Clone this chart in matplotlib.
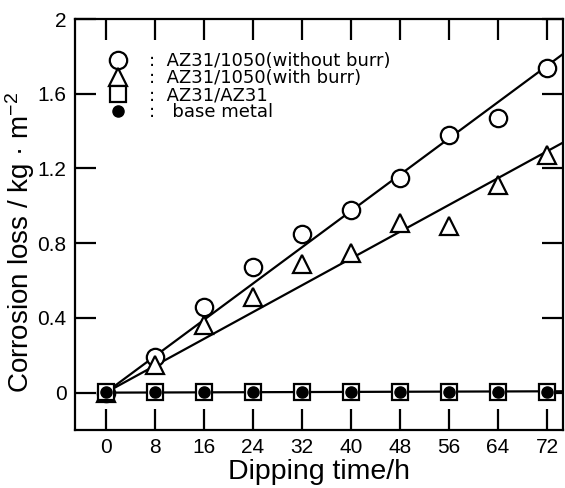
import numpy as np
import matplotlib
matplotlib.use('Agg')
import matplotlib.pyplot as plt

plt.rcParams['font.family'] = ['Liberation Sans', 'DejaVu Sans']
plt.rcParams['mathtext.fontset'] = 'custom'
plt.rcParams['mathtext.rm'] = 'Liberation Sans'
plt.rcParams['mathtext.it'] = 'Liberation Sans:italic'

# 浸漬時間と腐食減量
hours = [0, 8, 16, 24, 32, 40, 48, 56, 64, 72]
without_burr = [0.0, 0.19, 0.46, 0.67, 0.85, 0.98, 1.15, 1.38, 1.47, 1.74]
with_burr = [0.0, 0.15, 0.36, 0.51, 0.69, 0.75, 0.91, 0.89, 1.11, 1.27]
az31_az31 = [0.005, 0.005, 0.005, 0.005, 0.005, 0.005, 0.005, 0.005, 0.005, 0.005]
base_metal = [0.005, 0.005, 0.005, 0.005, 0.005, 0.005, 0.005, 0.005, 0.005, 0.005]

labels = [':  AZ31/1050(without burr)', ':  AZ31/1050(with burr)',
          ':  AZ31/AZ31', ':   base metal']

x_min, x_max = -5, 74.6
x = np.array(hours, dtype=float)


def slope_through_origin(y):
    """原点を通る直線の傾き"""
    y = np.array(y, dtype=float)
    return np.sum(x * y) / np.sum(x ** 2)


fig = plt.figure(figsize=(5.65, 4.88), dpi=100)
ax = fig.add_axes([75 / 565, 1 - 430 / 488, 488 / 565, 411 / 488])

# 近似直線
x_fit = np.array([0, x_max])
for series in (without_burr, with_burr, az31_az31):
    ax.plot(x_fit, slope_through_origin(series) * x_fit, color='black', lw=1.6, zorder=2)

mk = dict(linestyle='none', markerfacecolor='white', markeredgecolor='black',
          markeredgewidth=1.6, zorder=3)
h1, = ax.plot(hours, without_burr, marker='o', markersize=12.5, label=labels[0], **mk)
h2, = ax.plot(hours, with_burr, marker='^', markersize=13, label=labels[1], **mk)
h3, = ax.plot(hours, az31_az31, marker='s', markersize=12, label=labels[2], **mk)
h4, = ax.plot(hours, base_metal, marker='o', markersize=8, linestyle='none',
              color='black', label=labels[3], zorder=4)

leg = ax.legend(handles=[h1, h2, h3, h4], loc='upper left',
                bbox_to_anchor=(0.073, 0.92), frameon=False,
                prop={'family': 'DejaVu Sans', 'size': 13},
                handlelength=0.8, handletextpad=1.33, labelspacing=-0.05,
                borderaxespad=0, borderpad=0)

ax.set_xlim(x_min, x_max)
ax.set_ylim(-0.2, 2.0)
ax.set_xticks(hours)
ax.set_yticks([0, 0.4, 0.8, 1.2, 1.6, 2.0])
ax.set_yticklabels(['0', '0.4', '0.8', '1.2', '1.6', '2'])

ax.tick_params(axis='both', which='major', direction='in', length=15, width=1.6,
               labelsize=15, top=True, right=True, pad=6)
for s in ax.spines.values():
    s.set_linewidth(1.6)

ax.set_xlabel('Dipping time/h', fontsize=20.5)
ax.set_ylabel('Corrosion loss / kg · m$^{-2}$', fontsize=20)
ax.xaxis.set_label_coords(0.5, -0.07)
ax.yaxis.set_label_coords(-0.078, 0.457)

fig.savefig('out.png', dpi=100)
